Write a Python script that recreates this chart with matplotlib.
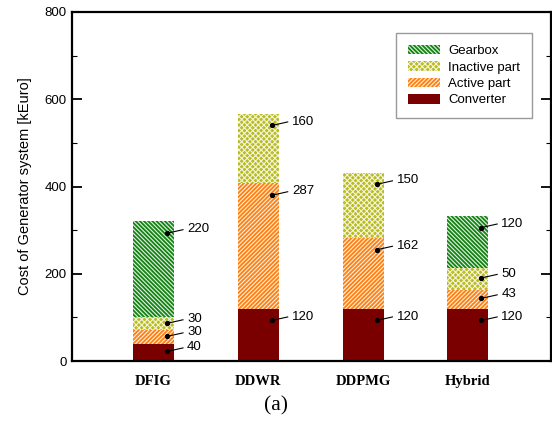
import matplotlib
matplotlib.use("Agg")
import matplotlib.pyplot as plt
import numpy as np
from matplotlib.ticker import MultipleLocator

plt.rcParams['hatch.linewidth'] = 0.8

categories = ["DFIG", "DDWR", "DDPMG", "Hybrid"]
converter = [40, 120, 120, 120]
active = [30, 287, 162, 43]
inactive = [30, 160, 150, 50]
gearbox = [220, 0, 0, 120]

series = [
    ("Converter", converter, dict(facecolor="#7a0000", edgecolor="#7a0000", hatch=None)),
    ("Active part", active, dict(facecolor="#ff8010", edgecolor="#fff0e0", hatch="/" * 8)),
    ("Inactive part", inactive, dict(facecolor="#b8bc20", edgecolor="#f4f4dc", hatch="x" * 6)),
    ("Gearbox", gearbox, dict(facecolor="#138413", edgecolor="#e4f0e4", hatch="\\" * 8)),
]

fig = plt.figure(figsize=(5.52, 4.21), dpi=100)
ax = fig.add_axes([0.1304, 0.1425, 0.867, 0.829])

x = np.arange(len(categories))
w = 0.39
bottom = np.zeros(len(categories))
handles = {}
for name, vals, st in series:
    vals = np.array(vals, dtype=float)
    b = ax.bar(x, vals, w, bottom=bottom, linewidth=0, label=name, **st)
    handles[name] = b
    for i, v in enumerate(vals):
        if v <= 0:
            continue
        top = bottom[i] + v
        dy = min(27, 0.45 * v)
        yd = top - dy
        xd = x[i] + 0.13
        ax.plot([xd, xd + 0.15], [yd, yd + 8], color="black", lw=0.8)
        ax.plot(xd, yd, 'o', color="black", ms=2.8)
        ax.text(xd + 0.19, yd + 9, f"{int(v)}", fontsize=9.5, va="center", ha="left",
                family="Liberation Sans")
    bottom = bottom + vals

ax.set_xlim(-0.78, 3.79)
ax.set_ylim(0, 800)
ax.yaxis.set_major_locator(MultipleLocator(200))
ax.yaxis.set_minor_locator(MultipleLocator(100))
ax.tick_params(axis='y', which='major', direction='in', length=7, width=1.3, right=True,
               labelsize=9.5, pad=4)
ax.tick_params(axis='y', which='minor', direction='in', length=3.5, width=0.8, right=True)
for lab in ax.get_yticklabels():
    lab.set_family("Liberation Sans")
ax.set_xticks(x)
ax.set_xticklabels(categories, fontsize=10.5, fontweight="bold", family="Liberation Serif")
ax.tick_params(axis='x', length=0, pad=10)
for s in ax.spines.values():
    s.set_linewidth(1.6)

ax.set_ylabel("Cost of Generator system [kEuro]", fontsize=10.5, family="Liberation Sans",
              labelpad=9)

order = ["Gearbox", "Inactive part", "Active part", "Converter"]
leg = ax.legend([handles[n] for n in order], order, loc="upper left",
                bbox_to_anchor=(0.678, 0.94), fancybox=False, edgecolor="#808080",
                prop={"family": "Liberation Sans", "size": 9.5}, handlelength=2.4,
                handleheight=0.75, borderpad=0.9, labelspacing=0.3, handletextpad=0.6,
                borderaxespad=0)
leg.get_frame().set_linewidth(1.0)

fig.text(0.5, 0.035, "(a)", ha="center", va="center", fontsize=15.5, family="Liberation Serif")

fig.savefig("out.png", dpi=100)
